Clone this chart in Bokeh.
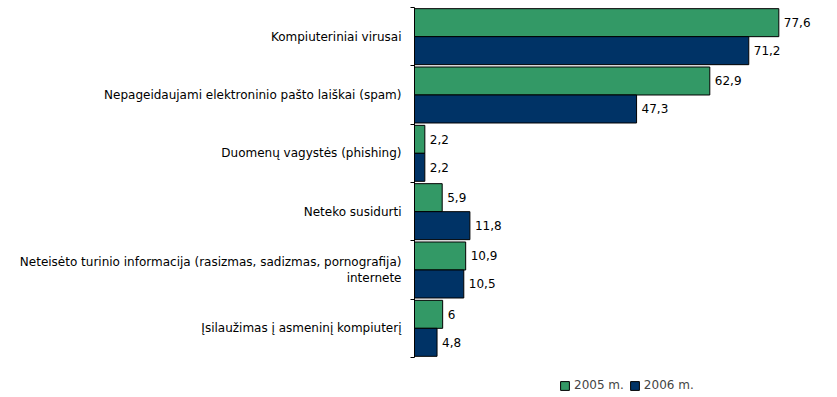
from bokeh.plotting import figure
from bokeh.models import ColumnDataSource, Range1d, FixedTicker, Legend, LegendItem
from bokeh.transform import dodge
from bokeh.embed import file_html
from bokeh.resources import INLINE
from bokeh.core.properties import value

categories = [
    "Kompiuteriniai virusai",
    "Nepageidaujami elektroninio pašto laiškai (spam)",
    "Duomenų vagystės (phishing)",
    "Neteko susidurti",
    "Neteisėto turinio informacija (rasizmas, sadizmas, pornografija)\ninternete",
    "Įsilaužimas į asmeninį kompiuterį",
]
series_names = ["2005 m.", "2006 m."]
values_2005 = [77.6, 62.9, 2.2, 5.9, 10.9, 6.0]
values_2006 = [71.2, 47.3, 2.2, 11.8, 10.5, 4.8]

FONT = "DejaVu Sans"
FS = "12px"
GREEN = "#339966"
BLUE = "#003366"

def fmt(v):
    return f"{v:g}".replace(".", ",")

n = len(categories)
ypos = [i + 0.5 for i in range(n)]
src = ColumnDataSource(dict(
    y=ypos,
    v05=values_2005,
    v06=values_2006,
    l05=[fmt(v) for v in values_2005],
    l06=[fmt(v) for v in values_2006],
))

p = figure(width=837, height=397, output_backend="svg", toolbar_location=None,
           x_range=Range1d(0, 90.1), y_range=Range1d(6.686, 0),
           min_border_left=414, min_border_right=0, min_border_top=7, min_border_bottom=0)
p.outline_line_color = None
p.xgrid.visible = False
p.ygrid.visible = False
p.xaxis.visible = False

bh = 0.48
r1 = p.hbar(y=dodge("y", -0.24, range=p.y_range), right="v05", left=0, height=bh,
            source=src, fill_color=GREEN, line_color="black", line_width=1)
r2 = p.hbar(y=dodge("y", 0.24, range=p.y_range), right="v06", left=0, height=bh,
            source=src, fill_color=BLUE, line_color="black", line_width=1)

p.text(x="v05", y=dodge("y", -0.24, range=p.y_range), text="l05", source=src,
       x_offset=5, text_baseline="middle", text_align="left",
       text_font=value(FONT), text_font_size=FS, text_color="black")
p.text(x="v06", y=dodge("y", 0.24, range=p.y_range), text="l06", source=src,
       x_offset=5, text_baseline="middle", text_align="left",
       text_font=value(FONT), text_font_size=FS, text_color="black")

ax = p.yaxis[0]
ax.bounds = (0, n)
ax.ticker = FixedTicker(ticks=ypos, minor_ticks=list(range(n + 1)))
ax.major_label_overrides = {y: c for y, c in zip(ypos, categories)}
ax.major_tick_out = 0
ax.major_tick_in = 0
ax.minor_tick_out = 4
ax.minor_tick_in = 0
ax.minor_tick_line_color = "black"
ax.axis_line_color = "black"
ax.major_label_standoff = 9
ax.major_label_text_font = FONT
ax.major_label_text_font_size = FS
ax.major_label_text_color = "black"

legend = Legend(items=[LegendItem(label=series_names[0], renderers=[r1]),
                       LegendItem(label=series_names[1], renderers=[r2])],
                orientation="horizontal", location=(145, 5),
                padding=0, margin=0, spacing=5, label_standoff=4,
                glyph_width=11, glyph_height=11,
                border_line_alpha=0, background_fill_alpha=0,
                label_text_font=FONT, label_text_font_size=FS,
                label_height=12)
p.add_layout(legend, "center")

open("out.html", "w").write(file_html(p, INLINE))
